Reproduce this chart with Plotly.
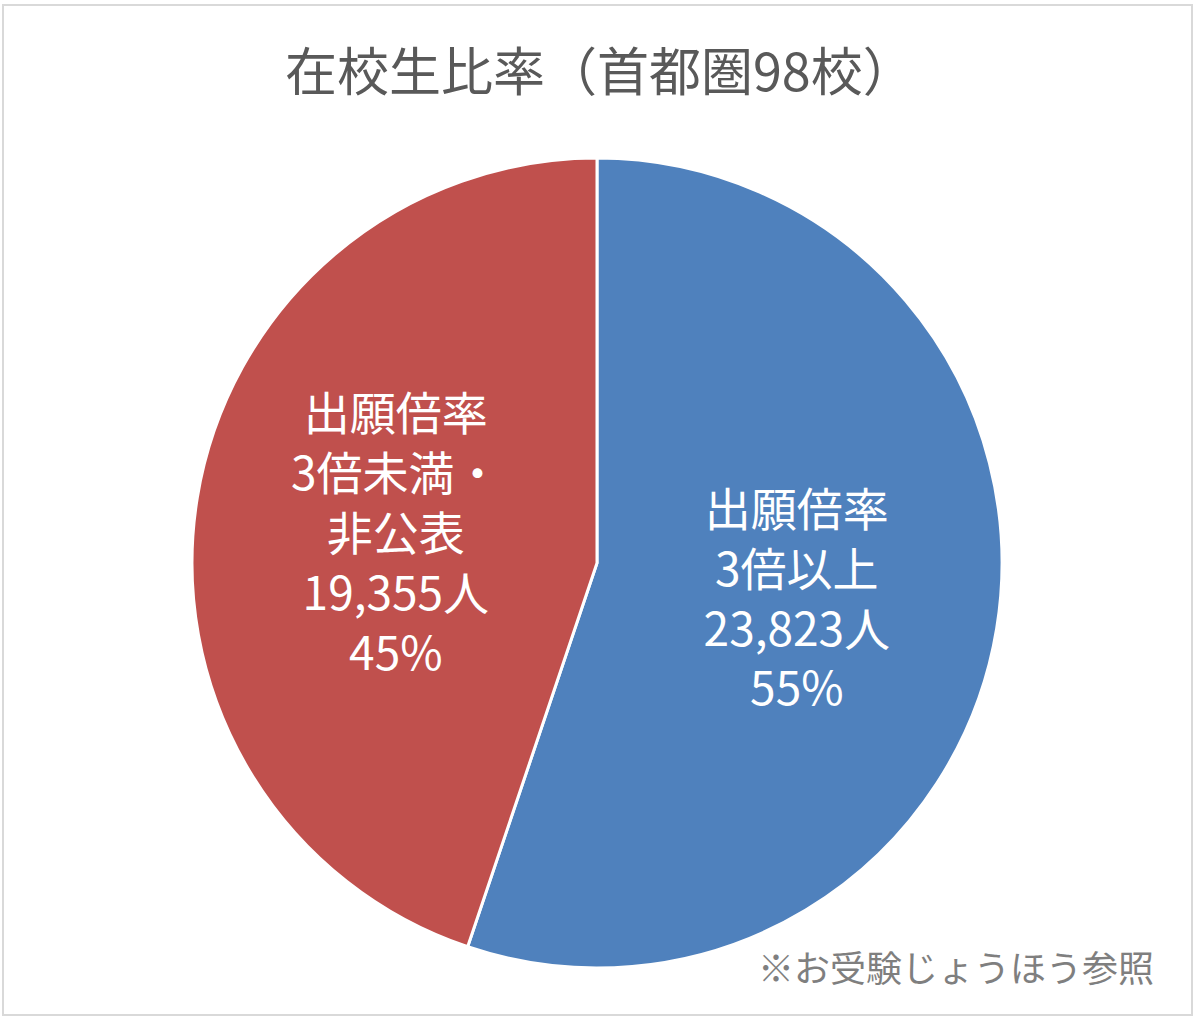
import plotly.graph_objects as go

# slice data (clockwise from 12 o'clock)
labels = ["出願倍率<br>3倍以上", "出願倍率<br>3倍未満・<br>非公表"]
students = [23823, 19355]
colors = ["#4F81BD", "#C0504D"]

title_text = "在校生比率（首都圏98校）"
source_note = "※お受験じょうほう参照"

W, H = 1200, 1023
font_jp = "Noto Sans CJK JP"

fig = go.Figure(go.Pie(
    labels=labels,
    values=students,
    sort=False,
    direction="clockwise",
    rotation=0,
    marker=dict(colors=colors, line=dict(color="white", width=3)),
    texttemplate="%{label}<br>%{value:,}人<br>%{percent:.0%}",
    textposition="inside",
    insidetextorientation="horizontal",
    textfont=dict(family=font_jp, size=46, color="white"),
    hoverinfo="label+value+percent",
    domain=dict(x=[(597 - 405) / W, (597 + 405) / W],
                y=[(H - 563 - 405) / H, (H - 563 + 405) / H]),
    showlegend=False,
))

fig.update_layout(
    width=W,
    height=H,
    margin=dict(l=0, r=0, t=0, b=0),
    paper_bgcolor="white",
    plot_bgcolor="white",
    font=dict(family=font_jp),
    annotations=[
        dict(text=title_text, x=600 / W, y=1 - 69 / H, xref="paper", yref="paper",
             showarrow=False, xanchor="center", yanchor="middle",
             font=dict(family=font_jp, size=52, color="#595959")),
        dict(text=source_note, x=1156 / W, y=1 - 966 / H, xref="paper", yref="paper",
             showarrow=False, xanchor="right", yanchor="middle",
             font=dict(family=font_jp, size=36, color="#7F7F7F")),
    ],
    shapes=[
        dict(type="rect", xref="paper", yref="paper",
             x0=3 / W, x1=1192 / W, y0=1 - 1015 / H, y1=1 - 5 / H,
             line=dict(color="#D9D9D9", width=2), fillcolor="rgba(0,0,0,0)"),
    ],
)

# drop the default 8px body margin so the figure sits at the page corner
fig.write_html("out.html", config={"displayModeBar": False},
               post_script="document.body.style.margin='0px';")
